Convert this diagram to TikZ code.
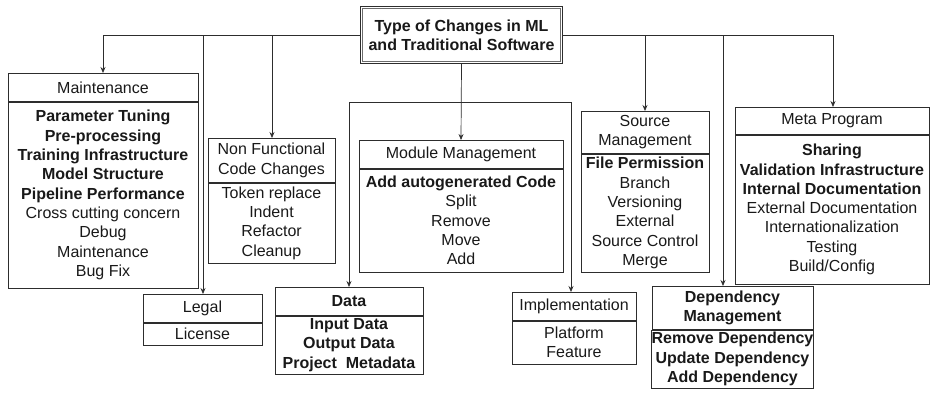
\documentclass[tikz,border=0pt]{standalone}
\usepackage{fontspec}
\setmainfont{Liberation Sans}
\usetikzlibrary{arrows.meta, positioning}
\definecolor{linegray}{RGB}{45,45,45}
\definecolor{textblack}{RGB}{25,25,25}

\begin{document}
\begin{tikzpicture}[x=1pt, y=-1pt,
  every node/.style={text=textblack, font=\fontsize{16}{19.3}\selectfont},
  topbox/.style={draw=linegray, line width=1.3pt, fill=white,
    align=center, inner sep=0pt, font=\fontsize{16}{19.3}\selectfont\bfseries},
  boxhead/.style={draw=linegray, line width=0.7pt, align=center, inner xsep=0pt, inner ysep=1pt, anchor=north},
  boxbody/.style={draw=linegray, line width=0.7pt, align=center, inner xsep=0pt, inner ysep=1pt, below=0pt of #1},
  link/.style={draw=linegray, line width=0.7pt, -{Stealth[length=6pt, width=5pt]}}]

  \useasboundingbox (0,0) rectangle (930,397);

  % root
  \node[topbox, minimum width=202pt, minimum height=57pt] (top) at (461.5,35)
    {Type of Changes in ML\\and Traditional Software};
  \draw[linegray!70, line width=0.6pt] ([xshift=2.5pt, yshift=-2.5pt]top.north west)
    rectangle ([xshift=-2.5pt, yshift=2.5pt]top.south east);

  % category boxes: head + body
  \node[boxhead, minimum width=190pt, minimum height=28pt] (mnt) at (103,73) {Maintenance};
  \node[boxbody=mnt, minimum width=190pt, minimum height=186pt] (mntb)
    {\textbf{Parameter Tuning}\\\textbf{Pre-processing}\\\textbf{Training Infrastructure}\\
     \textbf{Model Structure}\\\textbf{Pipeline Performance}\\Cross cutting concern\\Debug\\
     Maintenance\\Bug Fix};

  \node[boxhead, minimum width=119pt, minimum height=28pt] (legal) at (202.5,294) {Legal};
  \node[boxbody=legal, minimum width=119pt, minimum height=22pt] (legalb) {License};

  \node[boxhead, minimum width=127pt, minimum height=44pt] (nfc) at (271.5,138)
    {Non Functional\\Code Changes};
  \node[boxbody=nfc, minimum width=127pt, minimum height=80pt] (nfcb)
    {Token replace\\Indent\\Refactor\\Cleanup};

  \node[boxhead, minimum width=204pt, minimum height=28pt] (mod) at (461,140) {Module Management};
  \node[boxbody=mod, minimum width=204pt, minimum height=103pt] (modb)
    {\textbf{Add autogenerated Code}\\Split\\Remove\\Move\\Add};

  \node[boxhead, minimum width=148pt, minimum height=28pt] (data) at (349,287) {\textbf{Data}};
  \node[boxbody=data, minimum width=148pt, minimum height=58pt] (datab)
    {\textbf{Input Data}\\\textbf{Output Data}\\\textbf{Project\ \ Metadata}};

  \node[boxhead, minimum width=124pt, minimum height=28pt] (impl) at (574,292) {Implementation};
  \node[boxbody=impl, minimum width=124pt, minimum height=43pt] (implb) {Platform\\Feature};

  \node[boxhead, minimum width=128pt, minimum height=42pt] (src) at (645,111)
    {Source\\Management};
  \node[boxbody=src, minimum width=128pt, minimum height=118pt] (srcb)
    {\textbf{File Permission}\\Branch\\Versioning\\External\\Source Control\\Merge};

  \node[boxhead, minimum width=161pt, minimum height=43pt] (dep) at (732.5,286)
    {\textbf{Dependency}\\\textbf{Management}};
  \node[boxbody=dep, minimum width=161pt, minimum height=58pt] (depb)
    {\textbf{Remove Dependency}\\\textbf{Update Dependency}\\\textbf{Add Dependency}};

  \node[boxhead, minimum width=194pt, minimum height=27pt] (meta) at (832,107) {Meta Program};
  \node[boxbody=meta, minimum width=194pt, minimum height=149pt] (metab)
    {\textbf{Sharing}\\\textbf{Validation Infrastructure}\\\textbf{Internal Documentation}\\
     External Documentation\\Internationalization\\Testing\\Build/Config};

  % bus
  \coordinate (busMnt) at (103,35);
  \coordinate (busLegal) at (203,35);
  \coordinate (busNfc) at (272,35);
  \coordinate (busSrc) at (645,35);
  \coordinate (busDep) at (723,35);
  \coordinate (busMeta) at (833,35);
  \draw[linegray, line width=0.7pt] (busMnt) -- (top.west);
  \draw[linegray, line width=0.7pt] (top.east) -- (busMeta);

  \draw[link] (busMnt) -- (busMnt |- mnt.north);
  \draw[link] (busLegal) -- (busLegal |- legal.north);
  \draw[link] (busNfc) -- (busNfc |- nfc.north);
  \draw[link] (busSrc) -- (busSrc |- src.north);
  \draw[link] (busDep) -- (busDep |- dep.north);
  \draw[link] (busMeta) -- (busMeta |- meta.north);

  % middle branch
  \coordinate (turnData) at (349,102);
  \coordinate (turnImpl) at (571,102);
  \draw[link] (top.south) -- (mod.north);
  \draw[linegray, line width=0.7pt] (turnData) -- (turnImpl);
  \draw[link] (turnData) -- (turnData |- data.north);
  \draw[link] (turnImpl) -- (turnImpl |- impl.north);
\end{tikzpicture}
\end{document}
